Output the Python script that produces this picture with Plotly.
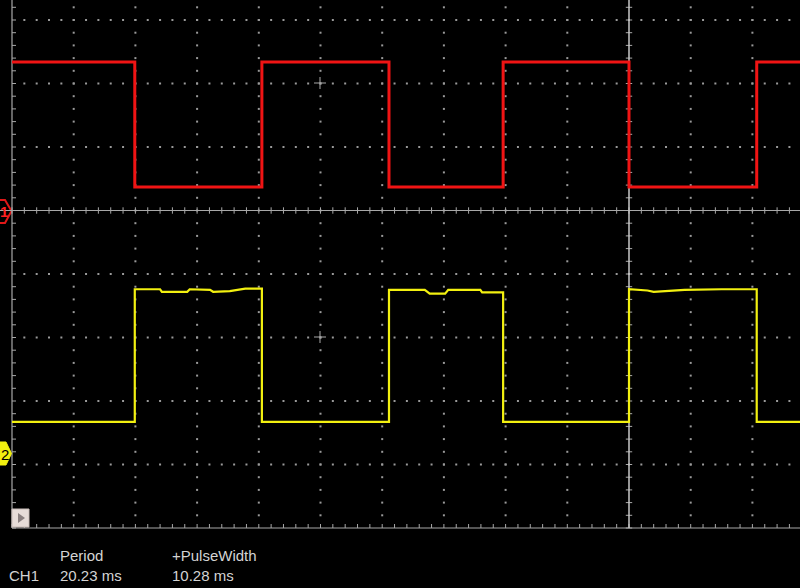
import numpy as np
import plotly.graph_objects as go

# scope screen: 1 div = 61.7 px wide, 63.5 px tall; origin at left axis / bottom line
W, H = 800, 588
X0_PX, Y0_PX = 12, 528
DX, DY = 61.7, 63.5
X_RANGE = [-X0_PX / DX, (W - X0_PX) / DX]
Y_RANGE = [(Y0_PX - H) / DY, Y0_PX / DY]

# CH1 (red) waveform vertices, time in divisions, level in divisions
red_t = [0, 1.99, 1.99, 4.05, 4.05, 6.11, 6.11, 7.96, 7.96, 10.0, 10.0, 12.07, 12.07, 12.8]
red_v = [7.34, 7.34, 5.37, 5.37, 7.34, 7.34, 5.37, 5.37, 7.34, 7.34, 5.37, 5.37, 7.34, 7.34]

# CH2 (yellow) waveform vertices
yellow_t = [0, 1.99, 1.99, 2.40, 2.43, 2.84, 2.88, 3.21, 3.26, 3.53, 3.78, 4.05, 4.05,
            6.11, 6.11, 6.69, 6.77, 7.02, 7.07, 7.59, 7.62, 7.96, 7.96,
            10.0, 10.0, 10.3, 10.4, 10.9, 11.5, 12.07, 12.07, 12.8]
yellow_v = [1.67, 1.67, 3.76, 3.76, 3.72, 3.72, 3.76, 3.75, 3.72, 3.73, 3.77, 3.77, 1.67,
            1.67, 3.75, 3.75, 3.69, 3.69, 3.75, 3.75, 3.71, 3.71, 1.67,
            1.67, 3.76, 3.74, 3.72, 3.75, 3.76, 3.76, 1.67, 1.67]

# measurement readout
meas_names = ["Period", "+PulseWidth"]
meas_values = ["20.23 ms", "10.28 ms"]
meas_source = "CH1"

GRID = "#9a9a9a"
AXIS = "#a8a8a8"
RED = "#f01414"
YELLOW = "#f2f010"
TEXT = "#d4d4d4"


def px(x):
    return x / W


def py(y):
    return 1 - y / H


fig = go.Figure()

# dotted graticule
hx, hy = [], []
for v in range(1, 9):
    if v == 5:
        continue
    xs = np.arange(0.2, X_RANGE[1], 0.2)
    hx += list(xs)
    hy += [v] * len(xs)
for t in range(1, 13):
    if t == 10:
        continue
    ys = np.arange(0.2, Y_RANGE[1], 0.2)
    hx += [t] * len(ys)
    hy += list(ys)
fig.add_trace(go.Scatter(x=hx, y=hy, mode="markers",
                         marker=dict(symbol="square", size=2, color=GRID, line_width=0),
                         hoverinfo="skip"))

# solid axes with minor ticks
tx, ty = [], []
tlx, tly = 4 / DX, 4 / DY
for v in np.arange(0, Y_RANGE[1], 0.2):
    tx += [0, tlx, None]
    ty += [v, v, None]
    tx += [10 - tlx * 0.8, 10 + tlx * 0.8, None]
    ty += [v, v, None]
for t in np.arange(0, X_RANGE[1], 0.2):
    tx += [t, t, None]
    ty += [0, tly, None]
    tx += [t, t, None]
    ty += [5 - tly * 0.8, 5 + tly * 0.8, None]
# centre crosses
for cy in [(Y0_PX - 83) / DY, (Y0_PX - 337) / DY]:
    cx = (320 - X0_PX) / DX
    tx += [cx - 6 / DX, cx + 6 / DX, None, cx, cx, None]
    ty += [cy, cy, None, cy - 6 / DY, cy + 6 / DY, None]
fig.add_trace(go.Scatter(x=tx, y=ty, mode="lines", line=dict(color=AXIS, width=1),
                         hoverinfo="skip"))
fig.add_trace(go.Scatter(x=[0, 0, None, 0, X_RANGE[1], None, X_RANGE[0], X_RANGE[1]],
                         y=[0, Y_RANGE[1], None, 0, 0, None, 5, 5],
                         mode="lines", line=dict(color=AXIS, width=1.2), hoverinfo="skip"))
fig.add_trace(go.Scatter(x=[10, 10], y=[0, Y_RANGE[1]], mode="lines",
                         line=dict(color="#c8c8c8", width=1.5), hoverinfo="skip"))

# waveforms
fig.add_trace(go.Scatter(x=yellow_t, y=yellow_v, mode="lines",
                         line=dict(color=YELLOW, width=2.2), hoverinfo="skip"))
fig.add_trace(go.Scatter(x=red_t, y=red_v, mode="lines",
                         line=dict(color=RED, width=3), hoverinfo="skip"))


def path(points):
    return "M " + " L ".join(f"{px(a):.5f},{py(b):.5f}" for a, b in points) + " Z"


shapes = [
    dict(type="path", xref="paper", yref="paper",
         path=path([(-3, 200), (5, 200), (11.5, 211), (5, 223), (-3, 223)]),
         line=dict(color="#e01818", width=2), fillcolor="rgba(0,0,0,0)", layer="below"),
    dict(type="path", xref="paper", yref="paper",
         path=path([(-3, 442), (6, 442), (11.5, 453.5), (6, 465), (-3, 465)]),
         line=dict(color=YELLOW, width=1), fillcolor=YELLOW),
    dict(type="rect", xref="paper", yref="paper",
         x0=px(12), x1=px(29), y0=py(509), y1=py(527),
         line=dict(color="#c8bcb8", width=1), fillcolor="#e6dcd8"),
    dict(type="path", xref="paper", yref="paper",
         path=path([(18, 513), (25, 518), (18, 523)]),
         line=dict(color="#8a8080", width=0), fillcolor="#8a8080"),
]

font = dict(family="Liberation Sans, Arial, sans-serif", size=15, color=TEXT)
ann = [
    dict(text="<b>1</b>", x=px(-1), y=py(212), xanchor="left",
         font=dict(family="Liberation Sans", size=15, color="#ff2020")),
    dict(text="2", x=px(0), y=py(454), xanchor="left",
         font=dict(family="Liberation Sans", size=15, color="#000000")),
    dict(text=meas_source, x=px(8), y=py(575), xanchor="left", font=font),
]
for i, (name, val) in enumerate(zip(meas_names, meas_values)):
    x0 = [59, 171][i]
    ann.append(dict(text=name, x=px(x0), y=py(555), xanchor="left", font=font))
    ann.append(dict(text=val, x=px(x0), y=py(575), xanchor="left", font=font))
for a in ann:
    a.update(xref="paper", yref="paper", showarrow=False, borderpad=0)
    a["yanchor"] = "middle"

fig.update_layout(
    width=W, height=H,
    margin=dict(l=0, r=0, t=0, b=0),
    paper_bgcolor="#000000", plot_bgcolor="#000000",
    showlegend=False, hovermode=False,
    xaxis=dict(range=X_RANGE, visible=False, fixedrange=True),
    yaxis=dict(range=Y_RANGE, visible=False, fixedrange=True),
    shapes=shapes, annotations=ann,
)

fig.write_html("out.html", config={"displayModeBar": False},
               post_script="document.body.style.margin='0';document.body.style.background='#000';")
